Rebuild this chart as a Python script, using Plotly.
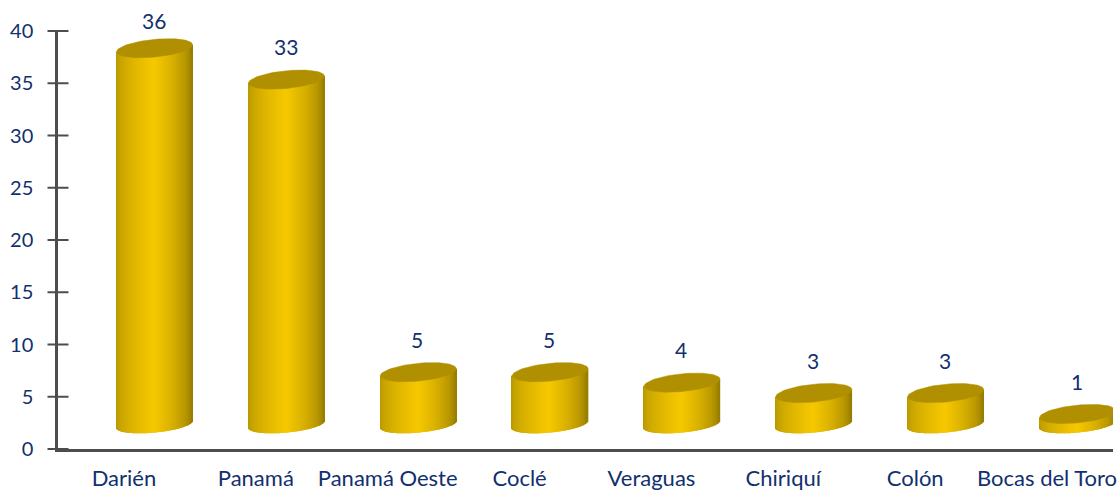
import numpy as np
import plotly.graph_objects as go

categories = ["Darién", "Panamá", "Panamá Oeste", "Coclé", "Veraguas", "Chiriquí", "Colón", "Bocas del Toro"]
values = [36, 33, 5, 5, 4, 3, 3, 1]
y_ticks = [0, 5, 10, 15, 20, 25, 30, 35, 40]

NAVY = "#12306e"
AXIS = "#4d4d4d"
TOP = "#b09000"
EDGE_L = np.array([0xb5, 0x96, 0x00])
EDGE_R = np.array([0x8e, 0x76, 0x00])
MID = np.array([0xf6, 0xc8, 0x00])
FONT = "Lato"

# pseudo-3D geometry, in axis units
DX = 0.232        # floor depth shift, x
DY = 2.35         # floor depth shift, y
HALF_W = 0.288    # cylinder half width
BULGE = 0.78      # lower ellipse vertical half axis
BULGE_TOP = 0.85  # top ellipse vertical half axis
SHEAR = 0.34      # ellipse tilt
N = 76
PX_PER_UNIT = 418 / 40

centres = np.arange(len(values)) + 0.5 + DX
vals = np.array(values, dtype=float)

fig = go.Figure()

edges = np.linspace(-1, 1, N + 1)
for i in range(N):
    u = (edges[i] + edges[i + 1]) / 2
    frac = (u + 1) / 2
    k = (1 - abs(frac - 0.5) * 2) ** (0.6 if u < 0 else 0.55)
    edge = EDGE_L if u < 0 else EDGE_R
    col = edge + (MID - edge) * k
    bottom = DY + SHEAR * u - BULGE * np.sqrt(max(0, 1 - u * u))
    top = vals + DY + SHEAR * u
    w = 2 * HALF_W / N
    fig.add_trace(go.Bar(
        x=centres + u * HALF_W,
        y=top - bottom,
        base=[bottom] * len(vals),
        width=w * 1.4,
        marker=dict(color=f"rgb({col[0]:.0f},{col[1]:.0f},{col[2]:.0f})", line_width=0),
        hoverinfo="skip", showlegend=False,
    ))

t = np.linspace(0, 2 * np.pi, 90)
for c, v in zip(centres, vals):
    fig.add_trace(go.Scatter(
        x=c + HALF_W * np.cos(t),
        y=v + DY + SHEAR * np.cos(t) + BULGE_TOP * np.sin(t),
        mode="lines", fill="toself", fillcolor=TOP,
        line=dict(color=TOP, width=0.5),
        hoverinfo="skip", showlegend=False,
    ))

# y axis tick marks crossing the axis line
fig.add_trace(go.Scatter(
    x=[0] * len(y_ticks), y=y_ticks, mode="markers",
    marker=dict(symbol="line-ew", size=15, line=dict(color=AXIS, width=2)),
    cliponaxis=False, hoverinfo="skip", showlegend=False,
))

# value labels (anchored inside the range, lifted with a pixel shift where needed)
label_y = np.minimum(vals + 5.5, 40.96)
annotations = [
    dict(x=c - 0.006, y=float(min(y, 40)), yshift=float(max(y - 40, 0) * PX_PER_UNIT),
         xref="x", yref="y", text=str(v), showarrow=False,
         xanchor="center", yanchor="middle",
         font=dict(family=FONT, size=21, color=NAVY))
    for c, y, v in zip(centres, label_y, values)
]

fig.update_layout(
    width=1119, height=490, autosize=False,
    margin=dict(l=58, r=6, t=31, b=41, autoexpand=False),
    paper_bgcolor="white", plot_bgcolor="white",
    barmode="overlay", showlegend=False,
    font=dict(family=FONT, size=20, color=NAVY),
    annotations=annotations,
    xaxis=dict(
        range=[0, len(values)], tickmode="array", automargin=False,
        tickvals=np.arange(len(values)) + 0.5, ticktext=categories,
        showgrid=False, zeroline=False, showline=True,
        linecolor=AXIS, linewidth=2.5,
        ticks="outside", ticklen=8, tickcolor="rgba(0,0,0,0)",
        tickfont=dict(family=FONT, size=22, color=NAVY),
    ),
    yaxis=dict(
        range=[0, 40], tickmode="array", tickvals=y_ticks, automargin=False,
        showgrid=False, zeroline=False, showline=True,
        linecolor=AXIS, linewidth=2.5,
        ticks="outside", ticklen=18, tickcolor="rgba(0,0,0,0)",
        tickfont=dict(family=FONT, size=20, color=NAVY),
    ),
)

fig.write_html("out.html", config=dict(displayModeBar=False),
               post_script="document.body.style.margin='0';")
